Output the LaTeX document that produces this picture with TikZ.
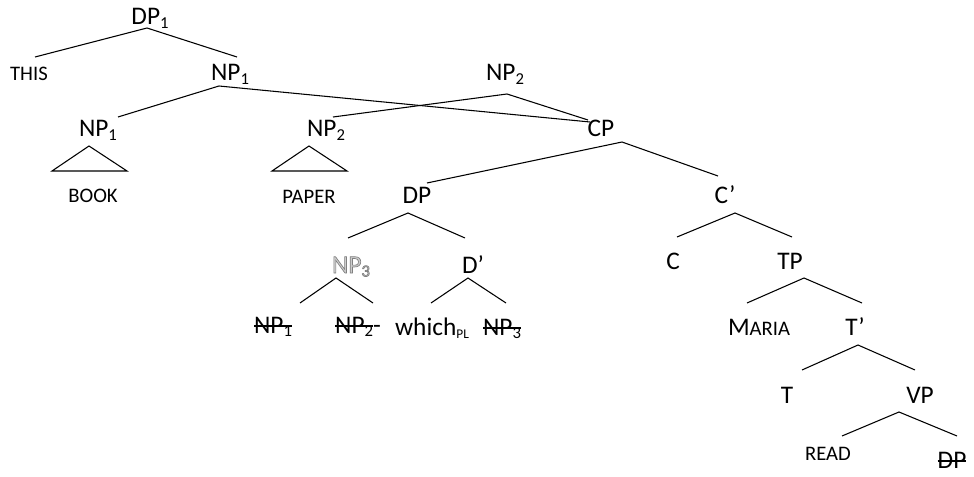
\documentclass[tikz,border=0pt]{standalone}
\usepackage{fontspec}
\setmainfont{Carlito}
\usepackage{xcolor}
% subscript, small capitals, struck-out and outlined labels
\newcommand\sbs[1]{\raisebox{-2.6pt}{\fontsize{12.5}{12.5}\selectfont #1}}
\newcommand\smc[1]{{\fontsize{15.5}{15.5}\selectfont #1}}
\newcommand\strk[1]{\setbox0=\hbox{#1}\rlap{\raisebox{0.24em}{\rule{\wd0}{1.1pt}}}\box0}
\newcommand\outlined[1]{{\color{gray!40}\special{pdf:code 0.5 G 2 Tr 0.5 w}#1\special{pdf:code 0 Tr}}}
\begin{document}
\begin{tikzpicture}[x=0.75pt,y=-0.75pt,
  lab/.style={anchor=base,inner sep=0pt,font=\fontsize{19}{19}\selectfont},
  branch/.style={draw=black,line width=0.8pt}]
\useasboundingbox (0,0) rectangle (974,477);

% labels
\node[lab] (DP1)   at (150,25)  {DP\sbs{1}};
\node[lab] (THIS)  at (29,81)   {\smc{THIS}};
\node[lab] (NP1a)  at (230,81)  {NP\sbs{1}};
\node[lab] (NP2a)  at (505,81)  {NP\sbs{2}};
\node[lab] (NP1b)  at (98,137)  {NP\sbs{1}};
\node[lab] (NP2b)  at (326,137) {NP\sbs{2}};
\node[lab] (CP)    at (601,137) {CP};
\node[lab] (BOOK)  at (93,203)  {\smc{BOOK}};
\node[lab] (PAPER) at (309,204) {\smc{PAPER}};
\node[lab] (DP)    at (417,204) {DP};
\node[lab] (Cbar)  at (725,204) {C’};
\node[lab] (NP3)   at (351,273) {\outlined{NP\sbs{3}}};
\node[lab] (Dbar)  at (473,273) {D’};
\node[lab] (C)     at (673,270) {C};
\node[lab] (TP)    at (790,270) {TP};
\node[lab] (NP1c)  at (273,333) {\strk{NP\sbs{1}}};
\node[lab] (NP2c)  at (358,333) {\strk{NP\sbs{2}}-};
\node[lab] (which) at (432,335) {which\sbs{\fontsize{10}{10}\selectfont PL}};
\node[lab] (NP3c)  at (502,335) {\strk{NP\sbs{3}}};
\node[lab] (Maria) at (759,335) {M\smc{ARIA}};
\node[lab] (Tbar)  at (855,335) {T’};
\node[lab] (T)     at (787,403) {T};
\node[lab] (VP)    at (920,403) {VP};
\node[lab] (READ)  at (828,460) {\smc{READ}};
\node[lab] (DPc)   at (952,468) {\strk{DP}};

% branch points under each mother
\coordinate (DP1-x)  at (147,28);
\coordinate (NP1a-x) at (219,86);
\coordinate (NP2a-x) at (507,94);
\coordinate (CP-x)   at (622,142);
\coordinate (DP-x)   at (408,213);
\coordinate (Cbar-x) at (735,213);
\coordinate (NP3-x)  at (336,278);
\coordinate (Dbar-x) at (468,278);
\coordinate (TP-x)   at (804,278);
\coordinate (Tbar-x) at (858,345);
\coordinate (VP-x)   at (899,412);

% branch ends above each daughter
\coordinate (THIS-t)  at (35,57);
\coordinate (NP1a-t)  at (237,57);
\coordinate (NP1b-t)  at (118,117);
\coordinate (NP2b-t)  at (333,117);
\coordinate (CP-t1)   at (590,122);
\coordinate (CP-t2)   at (588,120);
\coordinate (DP-t)    at (427,183);
\coordinate (Cbar-t)  at (718,176);
\coordinate (NP3-t)   at (348,238);
\coordinate (Dbar-t)  at (465,238);
\coordinate (C-t)     at (677,237);
\coordinate (TP-t)    at (792,237);
\coordinate (NP1c-t)  at (300,303);
\coordinate (NP2c-t)  at (373,303);
\coordinate (which-t) at (431,303);
\coordinate (NP3c-t)  at (506,303);
\coordinate (Maria-t) at (747,303);
\coordinate (Tbar-t)  at (862,303);
\coordinate (T-t)     at (802,370);
\coordinate (VP-t)    at (915,370);
\coordinate (READ-t)  at (842,436);
\coordinate (DPc-t)   at (957,436);

% triangles over BOOK and PAPER
\coordinate (BOOK-a) at (89,146);
\coordinate (BOOK-l) at (52,171);
\coordinate (BOOK-r) at (127,171);
\coordinate (PAPER-a) at (309,146);
\coordinate (PAPER-l) at (272,171);
\coordinate (PAPER-r) at (347,171);

% branches
\draw[branch] (THIS-t) -- (DP1-x) -- (NP1a-t);
\draw[branch] (NP1b-t) -- (NP1a-x) -- (CP-t1);
\draw[branch] (NP2b-t) -- (NP2a-x) -- (CP-t2);
\draw[branch] (DP-t) -- (CP-x) -- (Cbar-t);
\draw[branch] (NP3-t) -- (DP-x) -- (Dbar-t);
\draw[branch] (C-t) -- (Cbar-x) -- (TP-t);
\draw[branch] (NP1c-t) -- (NP3-x) -- (NP2c-t);
\draw[branch] (which-t) -- (Dbar-x) -- (NP3c-t);
\draw[branch] (Maria-t) -- (TP-x) -- (Tbar-t);
\draw[branch] (T-t) -- (Tbar-x) -- (VP-t);
\draw[branch] (READ-t) -- (VP-x) -- (DPc-t);
\draw[branch] (BOOK-a) -- (BOOK-l) -- (BOOK-r) -- cycle;
\draw[branch] (PAPER-a) -- (PAPER-l) -- (PAPER-r) -- cycle;
\end{tikzpicture}
\end{document}
